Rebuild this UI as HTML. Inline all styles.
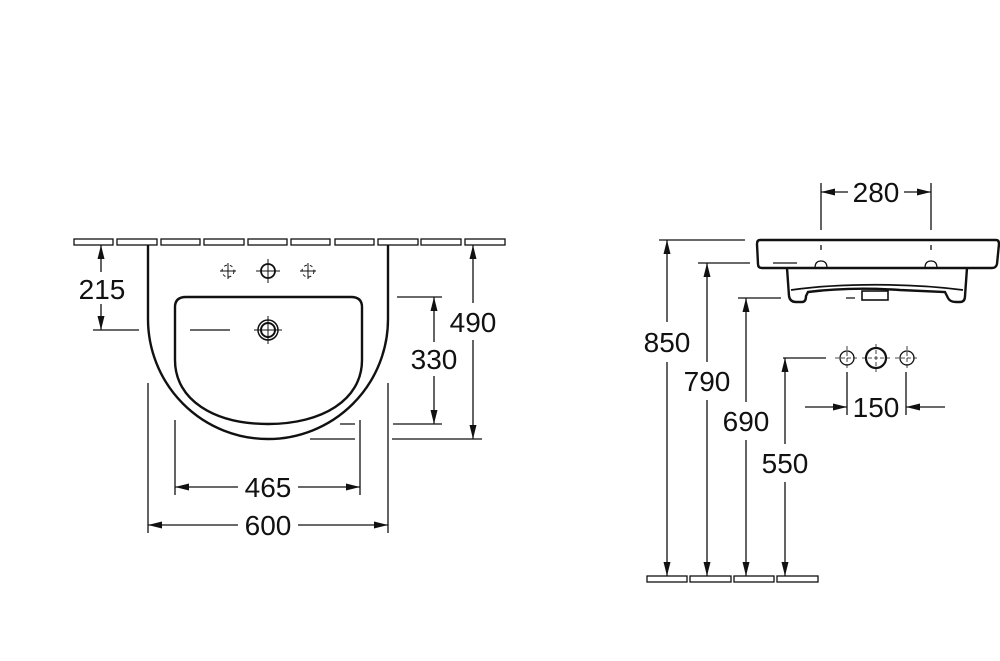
<!DOCTYPE html>
<html><head><meta charset="utf-8"><style>
html,body{margin:0;padding:0;background:#fff;}
svg{display:block;}
text{font-family:"Liberation Sans",sans-serif;font-size:28px;fill:#111;text-anchor:middle;}
</style></head><body>
<svg width="1000" height="661" viewBox="0 0 1000 661" xmlns="http://www.w3.org/2000/svg">
<defs>
<marker id="a" viewBox="0 0 14 7" refX="14" refY="3.5" markerWidth="14" markerHeight="7" markerUnits="userSpaceOnUse" orient="auto-start-reverse"><path d="M0,0 L14,3.5 L0,7 Z" fill="#111"/></marker>
</defs>
<g stroke="#111" fill="none" stroke-width="1.3">
<rect x="74" y="239" width="39" height="6"/><rect x="117" y="239" width="40" height="6"/><rect x="161" y="239" width="39" height="6"/><rect x="204" y="239" width="40" height="6"/><rect x="248" y="239" width="39" height="6"/><rect x="291" y="239" width="39" height="6"/><rect x="335" y="239" width="39" height="6"/><rect x="378" y="239" width="40" height="6"/><rect x="421" y="239" width="40" height="6"/><rect x="465" y="239" width="40" height="6"/>
</g>
<g stroke="#111" fill="none" stroke-width="2.4">
<path d="M148,245 L148,319 A120,120 0 0 0 388,319 L388,245"/>
<path d="M175,307 Q175,297 186,297 L351,297 Q362,297 362,307 L362,360 C362,400 322,424 268,424 C214,424 175,400 175,360 Z"/>
<circle cx="268" cy="271" r="7" stroke-width="1.8"/>
<circle cx="268" cy="330" r="10" stroke-width="1.5"/>
<circle cx="268" cy="330" r="7" stroke-width="2"/>
</g>
<g stroke="#111" fill="none" stroke-width="1">
<path d="M268,259 V283 M256,271 H280"/>
<path d="M268,316 V344 M254,330 H282"/>
<circle cx="228" cy="271" r="6" stroke-dasharray="3 3"/>
<path d="M228,263 V279 M220,271 H236"/>
<circle cx="308" cy="271" r="6" stroke-dasharray="3 3"/>
<path d="M308,263 V279 M300,271 H316"/>
</g>
<g stroke="#111" fill="none" stroke-width="1.3">
<path d="M93,330 H139 M190,330 H230"/>
<path d="M397,297 H442 M393,424 H442 M340,424 H355 M310,439 H355 M392,439 H482"/>
<path d="M148,383 V533 M388,383 V533 M175,420 V495 M360,420 V495"/>
<line x1="101" y1="245" x2="101" y2="272" marker-start="url(#a)"/>
<line x1="101" y1="304" x2="101" y2="330" marker-end="url(#a)"/>
<line x1="434" y1="297" x2="434" y2="342" marker-start="url(#a)"/>
<line x1="434" y1="376" x2="434" y2="424" marker-end="url(#a)"/>
<line x1="473" y1="245" x2="473" y2="303" marker-start="url(#a)"/>
<line x1="473" y1="340" x2="473" y2="439" marker-end="url(#a)"/>
<line x1="175" y1="487" x2="238" y2="487" marker-start="url(#a)"/>
<line x1="298" y1="487" x2="360" y2="487" marker-end="url(#a)"/>
<line x1="148" y1="525" x2="238" y2="525" marker-start="url(#a)"/>
<line x1="298" y1="525" x2="388" y2="525" marker-end="url(#a)"/>
</g>
<text x="102" y="299">215</text>
<text x="434" y="369">330</text>
<text x="473" y="332">490</text>
<text x="268" y="497">465</text>
<text x="268" y="535">600</text>

<g stroke="#111" fill="none" stroke-width="2.4">
<path d="M760,240 L996,240 Q999,240 999,244 L997,264 Q996,268 992,268 L762,268 Q758,268 758,264 L757,244 Q757,240 760,240 Z"/>
<path d="M787,268 L789,296 Q790,302 796,302 L802,302 Q806,302 806,296 L808,292 C840,288 870,288 900,290 L945,292 L948,298 Q950,302 956,302 L960,302 Q965,302 965,296 L967,268"/>
<path d="M791,290 C840,283 910,283 963,290" stroke-width="1.8"/>
<rect x="862" y="291" width="26" height="9" stroke-width="1.6"/>
</g>
<g stroke="#111" fill="none" stroke-width="1.3">
<path d="M815,268 Q815,261 821,261 Q827,261 827,268 M925,268 Q925,261 931,261 Q937,261 937,268"/>
<path d="M821,245 V250 M931,245 V250" />
<path d="M821,183 V230 M931,183 V230"/>
<line x1="821" y1="192" x2="848" y2="192" marker-start="url(#a)"/>
<line x1="904" y1="192" x2="931" y2="192" marker-end="url(#a)"/>
<path d="M659,240 H745 M698,263 H750 M773,263 H797 M738,298 H781 M846,298 H855 M783,358 H826"/>
<rect x="647" y="576" width="40" height="6"/><rect x="690" y="576" width="41" height="6"/><rect x="734" y="576" width="40" height="6"/><rect x="777" y="576" width="41" height="6"/>
<line x1="667" y1="240" x2="667" y2="322" marker-start="url(#a)"/>
<line x1="667" y1="362" x2="667" y2="576" marker-end="url(#a)"/>
<line x1="707" y1="263" x2="707" y2="362" marker-start="url(#a)"/>
<line x1="707" y1="400" x2="707" y2="576" marker-end="url(#a)"/>
<line x1="746" y1="298" x2="746" y2="402" marker-start="url(#a)"/>
<line x1="746" y1="440" x2="746" y2="576" marker-end="url(#a)"/>
<line x1="785" y1="358" x2="785" y2="444" marker-start="url(#a)"/>
<line x1="785" y1="482" x2="785" y2="576" marker-end="url(#a)"/>
<path d="M847,372 V415 M906,372 V415"/>
<line x1="805" y1="407" x2="847" y2="407" marker-end="url(#a)"/>
<line x1="945" y1="407" x2="906" y2="407" marker-end="url(#a)"/>
<circle cx="847" cy="358" r="7"/><circle cx="907" cy="358" r="7"/>
<circle cx="876" cy="358" r="10" stroke-width="2.2"/>
<path d="M847,346 V370 M835,358 H859 M907,346 V370 M895,358 H919 M876,344 V372 M862,358 H890" stroke-width="0.8" stroke-dasharray="4 2"/>
</g>
<text x="876" y="202">280</text>
<text x="667" y="352">850</text>
<text x="707" y="391">790</text>
<text x="746" y="431">690</text>
<text x="785" y="473">550</text>
<text x="876" y="417">150</text>
</svg>
</body></html>
